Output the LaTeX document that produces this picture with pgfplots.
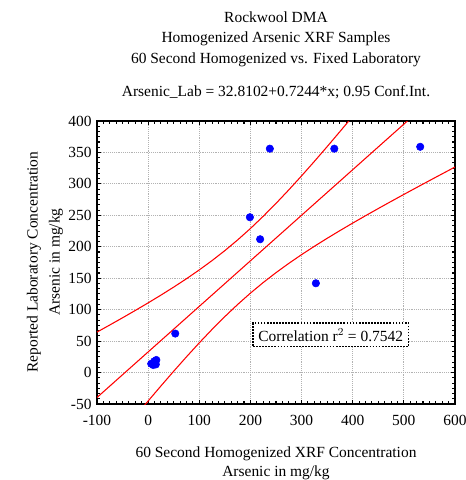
\documentclass[border=0pt]{standalone}
\usepackage{pgfplots}
\pgfplotsset{compat=1.18}
\usepackage{fontspec}
\setmainfont{Liberation Serif}
\begin{document}
\fontsize{11.6}{14}\selectfont
\begin{tikzpicture}
\path[use as bounding box] (0pt,0pt) rectangle (349.5pt,-360pt);
\begin{axis}[
  at={(72.75pt,-303pt)}, anchor=south west,
  width=268.5pt, height=212.25pt, scale only axis,
  xmin=-100, xmax=600, ymin=-50, ymax=400,
  xtick={-100,0,...,600}, ytick={-50,0,...,400},
  minor x tick num=7, minor y tick num=5,
  tick align=inside, tick pos=both,
  major tick length=3pt, minor tick length=2pt,
  every tick/.style={black, line width=0.8pt},
  axis line style={black, line width=1.2pt},
  grid=major,
  major grid style={gray!60, densely dotted, line width=0.9pt},
  /pgf/number format/assume math mode=true,
  ticklabel style={font=\fontsize{11.6}{14}\selectfont},
  xticklabel style={yshift=-4pt},
  /pgf/number format/set thousands separator={},
  clip=true,
]
\addplot[only marks, mark=*, mark size=2.8pt, blue, mark options={fill=blue, draw=blue}] coordinates {
 (6,14) (10,12) (13,15) (16,20) (12,18) (15,13)
 (53,62) (199,247) (219,212) (238,356) (328,142) (364,356) (532,359)
};
\addplot[red, line width=0.8pt] coordinates {(-100,-39.63) (600,467.45)};
\addplot[red, line width=0.8pt] coordinates {
 (-100,64.34) (-75,75.64) (-50,87.12) (-25,98.83) (0,110.81) (25,123.14) (50,135.91)
 (75,149.22) (100,163.23) (125,178.07) (150,193.92) (175,210.89) (200,229.08)
 (225,248.46) (250,268.96) (275,290.45) (300,312.76) (325,335.73) (350,359.24)
 (375,383.18) (400,407.45) (425,432.00)
};
\addplot[red, line width=0.8pt] coordinates {
 (-25,-69.43) (0,-45.19) (25,-21.30) (50,2.15) (75,25.06) (100,47.27) (125,68.65)
 (150,89.02) (175,108.27) (200,126.30) (225,143.14) (250,158.86) (275,173.59)
 (300,187.50) (325,200.75) (350,213.46) (375,225.74) (400,237.69) (425,249.36)
 (450,260.82) (475,272.11) (500,283.25) (525,294.27) (550,305.20) (575,316.04)
 (600,326.82)
};
\node[draw=black, densely dotted, line width=1.3pt, fill=white, inner sep=4pt,
  font=\fontsize{11.6}{14}\selectfont] at (axis cs:357,60)
  {Correlation r$^{2}$ = 0.7542};
\end{axis}
\node at (207pt,-12.75pt) {Rockwool DMA};
\node at (207pt,-29.25pt) {Homogenized Arsenic XRF Samples};
\node at (207pt,-45pt) {60 Second Homogenized vs. Fixed Laboratory};
\node at (207pt,-69pt) {Arsenic\_Lab = 32.8102+0.7244*x; 0.95 Conf.Int.};
\node at (207pt,-340.5pt) {60 Second Homogenized XRF Concentration};
\node at (207pt,-354.75pt) {Arsenic in mg/kg};
\node[rotate=90] at (25.5pt,-196.5pt) {Reported Laboratory Concentration};
\node[rotate=90] at (42pt,-196.5pt) {Arsenic in mg/kg};
\end{tikzpicture}
\end{document}
